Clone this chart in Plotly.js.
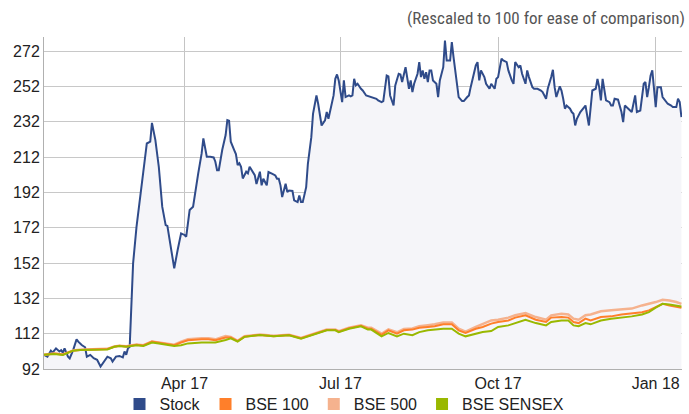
<!DOCTYPE html>
<html>
<head>
<meta charset="utf-8">
<script src="https://cdn.plot.ly/plotly-3.0.1.min.js"></script>
<style>html,body{margin:0;padding:0;background:#fff;}#chart{width:689px;height:414px;}</style>
</head>
<body>
<div id="chart"></div>
<script>
// ---- Data ----
const stockDates = [
"2017-01-09","2017-01-11","2017-01-13","2017-01-14","2017-01-16","2017-01-18","2017-01-19","2017-01-20","2017-01-21","2017-01-23",
"2017-01-24","2017-01-26","2017-01-28","2017-01-29","2017-01-31","2017-02-02","2017-02-03","2017-02-05","2017-02-07","2017-02-09",
"2017-02-11","2017-02-13","2017-02-15","2017-02-17","2017-02-18","2017-02-20","2017-02-22","2017-02-24","2017-02-25","2017-02-26",
"2017-02-27","2017-02-28","2017-03-01","2017-03-02","2017-03-04","2017-03-06","2017-03-08","2017-03-10","2017-03-12","2017-03-13",
"2017-03-15","2017-03-17","2017-03-19","2017-03-21","2017-03-22","2017-03-24","2017-03-26","2017-03-28","2017-03-30","2017-04-01",
"2017-04-02","2017-04-04","2017-04-06","2017-04-09","2017-04-11","2017-04-12","2017-04-14","2017-04-16","2017-04-18","2017-04-19",
"2017-04-20","2017-04-21","2017-04-23","2017-04-25","2017-04-26","2017-04-27","2017-04-28","2017-04-30","2017-05-01","2017-05-02",
"2017-05-03","2017-05-04","2017-05-05","2017-05-07","2017-05-08","2017-05-09","2017-05-11","2017-05-12","2017-05-13","2017-05-14",
"2017-05-15","2017-05-16","2017-05-17","2017-05-19","2017-05-20","2017-05-22","2017-05-24","2017-05-25","2017-05-26","2017-05-27",
"2017-05-28","2017-05-30","2017-05-31","2017-06-01","2017-06-03","2017-06-04","2017-06-06","2017-06-07","2017-06-08","2017-06-09",
"2017-06-11","2017-06-12","2017-06-14","2017-06-15","2017-06-17","2017-06-18","2017-06-19","2017-06-20","2017-06-22","2017-06-23",
"2017-06-24","2017-06-25","2017-06-27","2017-06-28","2017-06-29","2017-06-30","2017-07-01","2017-07-02","2017-07-03","2017-07-04",
"2017-07-06","2017-07-07","2017-07-08","2017-07-09","2017-07-10","2017-07-11","2017-07-13","2017-07-14","2017-07-16","2017-07-18",
"2017-07-20","2017-07-22","2017-07-23","2017-07-25","2017-07-26","2017-07-27","2017-07-28","2017-07-29","2017-07-30","2017-08-01",
"2017-08-02","2017-08-04","2017-08-05","2017-08-06","2017-08-07","2017-08-08","2017-08-10","2017-08-11","2017-08-12","2017-08-13",
"2017-08-15","2017-08-16","2017-08-17","2017-08-18","2017-08-19","2017-08-20","2017-08-21","2017-08-22","2017-08-23","2017-08-24",
"2017-08-26","2017-08-27","2017-08-28","2017-08-30","2017-08-31","2017-09-01","2017-09-03","2017-09-04","2017-09-05","2017-09-07",
"2017-09-08","2017-09-10","2017-09-11","2017-09-13","2017-09-14","2017-09-15","2017-09-17","2017-09-18","2017-09-19","2017-09-20",
"2017-09-21","2017-09-23","2017-09-24","2017-09-26","2017-09-27","2017-09-29","2017-09-30","2017-10-01","2017-10-03","2017-10-04",
"2017-10-06","2017-10-07","2017-10-09","2017-10-10","2017-10-11","2017-10-13","2017-10-14","2017-10-15","2017-10-17","2017-10-18",
"2017-10-19","2017-10-21","2017-10-22","2017-10-24","2017-10-26","2017-10-27","2017-10-29","2017-10-30","2017-11-01","2017-11-02",
"2017-11-03","2017-11-04","2017-11-06","2017-11-07","2017-11-08","2017-11-09","2017-11-10","2017-11-12","2017-11-13","2017-11-14",
"2017-11-15","2017-11-16","2017-11-18","2017-11-20","2017-11-21","2017-11-23","2017-11-24","2017-11-25","2017-11-27","2017-11-28",
"2017-11-29","2017-11-30","2017-12-01","2017-12-02","2017-12-03","2017-12-05","2017-12-06","2017-12-07","2017-12-08","2017-12-10",
"2017-12-12","2017-12-13","2017-12-14","2017-12-16","2017-12-17","2017-12-18","2017-12-20","2017-12-21","2017-12-23","2017-12-24",
"2017-12-25","2017-12-26","2017-12-27","2017-12-28","2017-12-29","2017-12-30","2017-12-31","2018-01-01","2018-01-02","2018-01-04",
"2018-01-05","2018-01-07","2018-01-08","2018-01-10","2018-01-11","2018-01-13","2018-01-14","2018-01-15","2018-01-16"
];
const stockValues = [
100.0,99.0,102.4,101.3,103.7,101.9,102.7,101.3,103.7,99.0,
98.0,102.7,108.8,107.5,105.6,104.3,99.0,100.0,98.1,97.2,
93.4,96.2,99.0,98.1,96.2,99.0,99.4,98.6,101.9,100.0,
103.7,104.6,131.1,151.8,172.6,189.5,204.6,219.7,220.7,231.4,
221.6,206.5,183.9,173.5,173.0,161.2,149.0,159.4,168.8,167.9,
166.9,182.0,183.9,202.8,214.1,222.6,212.2,212.2,211.8,209.4,
204.6,204.6,216.0,224.5,232.9,232.6,220.7,216.0,213.7,207.5,
208.5,206.5,199.9,203.7,202.8,206.5,203.1,201.8,196.7,200.9,
203.7,196.0,199.7,196.0,203.5,202.6,201.6,199.7,199.7,196.0,
189.4,196.9,192.2,193.1,192.8,187.5,186.5,190.3,186.5,186.5,
195.0,208.2,223.3,236.5,246.9,242.2,234.6,229.9,232.8,237.5,
233.7,238.4,246.9,256.3,258.8,255.4,249.7,243.1,255.4,246.0,
246.9,246.4,246.9,256.3,252.6,253.5,250.7,249.7,246.9,246.3,
245.6,245.0,244.1,243.1,243.7,251.6,258.2,257.7,246.9,241.2,
252.6,259.2,258.8,254.5,259.2,262.9,250.7,255.4,248.8,253.5,
259.2,265.8,257.3,261.1,256.3,260.1,254.5,261.1,261.1,255.4,
253.5,246.0,255.4,262.9,278.0,266.7,266.7,277.1,268.6,253.5,
246.0,243.7,243.7,246.0,246.9,251.6,259.2,263.9,265.8,255.4,
261.1,257.3,253.5,250.7,253.5,250.7,256.3,257.3,267.7,266.7,
265.8,261.1,255.4,253.5,265.8,262.9,263.9,259.2,253.5,261.1,
257.3,251.6,250.7,250.7,249.7,248.8,245.0,250.7,257.3,261.4,
251.6,246.0,252.1,249.7,245.0,239.4,241.2,239.4,237.5,236.5,
229.9,233.7,237.5,240.3,241.2,229.9,242.2,249.7,250.7,256.3,
251.6,244.1,256.3,249.7,244.1,243.1,241.2,241.2,245.0,244.5,
237.5,231.8,241.2,239.4,238.4,237.5,246.9,237.5,238.4,246.0,
253.5,254.5,246.0,251.6,258.2,261.1,252.6,240.3,251.6,251.6,
246.0,243.1,242.2,241.2,240.3,240.3,245.0,243.1,234.6
];

const indexDates = [
"2017-01-09","2017-01-15","2017-01-20","2017-01-23","2017-01-26","2017-01-30","2017-02-05","2017-02-10","2017-02-15","2017-02-19",
"2017-02-22","2017-02-26","2017-03-04","2017-03-08","2017-03-13","2017-03-17","2017-03-22","2017-03-26","2017-03-30","2017-04-03",
"2017-04-11","2017-04-15","2017-04-19","2017-04-25","2017-04-28","2017-05-02","2017-05-06","2017-05-10","2017-05-15","2017-05-23",
"2017-06-01","2017-06-08","2017-06-11","2017-06-17","2017-06-23","2017-06-28","2017-06-30","2017-07-06","2017-07-10","2017-07-13",
"2017-07-17","2017-07-19","2017-07-25","2017-07-29","2017-08-03","2017-08-07","2017-08-12","2017-08-16","2017-08-21","2017-08-25",
"2017-08-30","2017-09-04","2017-09-08","2017-09-12","2017-09-18","2017-09-22","2017-09-27","2017-10-01","2017-10-07","2017-10-11",
"2017-10-17","2017-10-23","2017-10-29","2017-11-01","2017-11-07","2017-11-11","2017-11-14","2017-11-17","2017-11-21","2017-11-24",
"2017-11-30","2017-12-06","2017-12-12","2017-12-18","2017-12-24","2017-12-28","2018-01-01","2018-01-05","2018-01-09","2018-01-13",
"2018-01-16"
];
const bse100 = [
100.0,100.8,100.2,101.1,102.4,102.8,102.8,103.2,103.3,104.6,
105.1,104.8,105.7,105.3,107.5,106.8,105.8,105.5,107.0,108.3,
108.8,108.8,108.3,109.8,109.8,107.8,110.3,110.8,111.3,110.6,
111.2,109.4,110.3,112.2,114.1,114.1,113.1,115.1,116.1,116.5,
114.8,114.8,111.4,113.9,112.0,113.9,114.3,115.4,115.8,116.2,
117.3,117.3,113.9,112.4,114.8,115.8,117.7,118.6,119.5,121.1,
122.4,119.9,118.6,121.1,121.4,121.1,118.6,118.0,120.5,119.5,
121.4,121.8,122.9,123.7,124.2,125.2,127.1,128.9,128.0,127.1,
126.7
];
const bse500 = [
100.0,100.8,100.2,101.2,102.5,102.9,102.9,103.3,103.4,104.7,
105.2,104.9,105.8,105.5,107.6,107.0,106.0,105.8,107.5,108.8,
109.4,109.4,108.8,110.7,110.2,108.0,110.5,111.0,111.5,110.8,
111.4,109.6,110.5,112.4,114.3,114.4,113.4,115.4,116.4,116.8,
115.4,115.4,112.0,114.5,112.8,114.6,115.0,116.2,116.8,117.3,
118.4,118.4,114.8,113.2,115.8,117.3,119.5,119.9,121.1,122.4,
123.7,121.4,119.9,122.4,123.3,122.9,120.5,119.9,122.4,122.9,
124.7,125.2,125.6,126.2,128.0,128.9,129.9,131.2,130.8,129.9,
128.9
];
const sensex = [
100.0,100.5,100.0,101.0,102.4,102.7,102.7,103.1,103.1,104.6,
105.0,104.6,105.5,105.0,107.0,106.5,105.5,105.0,105.5,106.5,
107.0,107.0,107.0,108.4,109.4,107.5,110.2,110.7,111.3,110.5,
111.1,109.2,110.1,112.0,113.9,113.9,112.9,114.8,115.8,116.2,
114.3,114.3,110.5,112.4,110.5,112.0,111.1,112.9,113.9,114.3,
114.8,114.8,112.0,110.5,112.0,112.9,113.5,115.8,116.7,118.0,
119.9,118.0,116.7,118.6,119.5,119.5,116.7,116.2,118.0,117.3,
119.5,120.5,121.1,121.8,122.9,124.2,126.7,128.9,128.5,128.0,
127.4
];

const seriesNames = ["Stock", "BSE 100", "BSE 500", "BSE SENSEX"];
const seriesColors = ["#2f4b8a", "#ff7f2a", "#f5b28e", "#99b800"];
const yTicks = [92, 112, 132, 152, 172, 192, 212, 232, 252, 272];
const subtitle = "(Rescaled to 100 for ease of comparison)";

// ---- Traces ----
const traces = [
  {x: stockDates, y: stockValues, type: "scatter", mode: "lines", name: seriesNames[0],
   line: {color: seriesColors[0], width: 2}, fill: "tozeroy", fillcolor: "#f5f5f9",
   showlegend: false},
  {x: indexDates, y: bse500, type: "scatter", mode: "lines", name: seriesNames[2],
   line: {color: seriesColors[2], width: 2.5}, showlegend: false},
  {x: indexDates, y: bse100, type: "scatter", mode: "lines", name: seriesNames[1],
   line: {color: seriesColors[1], width: 2}, showlegend: false},
  {x: indexDates, y: sensex, type: "scatter", mode: "lines", name: seriesNames[3],
   line: {color: seriesColors[3], width: 2}, showlegend: false}
];
// legend-only entries with square swatches
seriesNames.forEach((n, i) => {
  traces.push({x: [null], y: [null], type: "scatter", mode: "markers", name: n,
    marker: {symbol: "square", size: 12, color: seriesColors[i]}, showlegend: true, hoverinfo: "skip"});
});

const font = "'Liberation Sans', Arial, Helvetica, sans-serif";
const layout = {
  width: 689, height: 414,
  margin: {l: 44, r: 7, t: 37, b: 45, pad: 0},
  paper_bgcolor: "#ffffff", plot_bgcolor: "#ffffff",
  font: {family: font, size: 16, color: "#222"},
  xaxis: {
    type: "date", range: ["2017-01-09", "2018-01-16 08:00"],
    tick0: "2017-01-01", dtick: "M3", tickformat: "%b %y",
    showgrid: true, gridcolor: "#c4c4c4", gridwidth: 1,
    showline: true, linecolor: "#b0b0b0", linewidth: 1,
    ticks: "", zeroline: false, fixedrange: true,
    tickfont: {family: font, size: 16, color: "#222"}
  },
  yaxis: {
    range: [92, 280], tickvals: yTicks, ticktext: yTicks.map(String),
    showgrid: true, gridcolor: "#c8c8c8", gridwidth: 1,
    showline: true, linecolor: "#b0b0b0", linewidth: 1,
    ticks: "", zeroline: false, fixedrange: true,
    tickfont: {family: font, size: 16, color: "#222"}
  },
  legend: {
    orientation: "h", xref: "container", yref: "container",
    x: 0.5, xanchor: "center", y: 0.024, yanchor: "middle",
    font: {family: font, size: 16, color: "#222"},
    itemwidth: 30, tracegroupgap: 0, bgcolor: "rgba(0,0,0,0)"
  },
  annotations: [{
    text: subtitle, xref: "paper", yref: "paper", x: 1, xshift: 5, xanchor: "right",
    y: 1.057, yanchor: "middle", showarrow: false,
    font: {family: "'Liberation Sans Narrow', 'Roboto Condensed', 'Liberation Sans', sans-serif", size: 17, color: "#555"}
  }],
  showlegend: true
};

Plotly.newPlot("chart", traces, layout, {displayModeBar: false, staticPlot: true});
</script>
</body>
</html>
